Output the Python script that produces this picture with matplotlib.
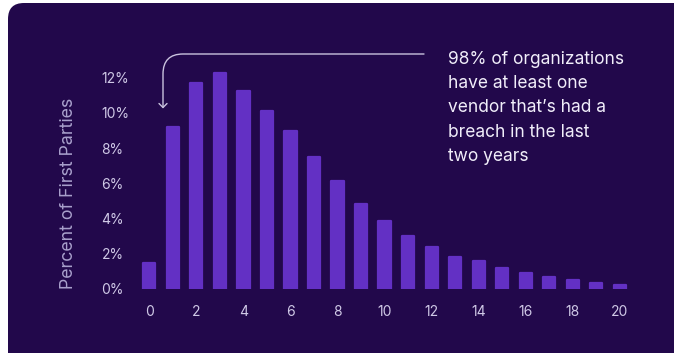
import matplotlib
matplotlib.use("Agg")
import matplotlib.pyplot as plt
from matplotlib.patches import FancyBboxPatch, PathPatch
from matplotlib.path import Path

# ---- data ----
vendors_breached = list(range(0, 21))
pct_first_parties = [1.5, 9.2, 11.7, 12.25, 11.25, 10.1, 9.0, 7.5, 6.15, 4.85,
                     3.85, 3.0, 2.4, 1.8, 1.6, 1.2, 0.9, 0.66, 0.53, 0.36, 0.2]
x_ticks = [0, 2, 4, 6, 8, 10, 12, 14, 16, 18, 20]
y_ticks = [0, 2, 4, 6, 8, 10, 12]
y_tick_labels = ["0%", "2%", "4%", "6%", "8%", "10%", "12%"]
y_label = "Percent of First Parties"
callout = "98% of organizations\nhave at least one\nvendor that\u2019s had a\nbreach in the last\ntwo years"

CARD = "#22084b"
BAR = "#6330c4"
TICK = "#cfc8e6"
YLAB = "#a9a0cc"
TEXT = "#f1eefa"
ARROW = "#c9c2de"

plt.rcParams['font.family'] = ['Inter', 'DejaVu Sans']

W, H = 674, 353
fig = plt.figure(figsize=(W / 100, H / 100), dpi=100)
fig.patch.set_facecolor("white")

# background / overlay axes in pixel coordinates
bg = fig.add_axes([0, 0, 1, 1], zorder=0)
bg.set_xlim(0, W)
bg.set_ylim(H, 0)
bg.axis("off")
card = FancyBboxPatch((8, 3), W + 20 - 8, H + 20 - 3,
                      boxstyle="round,pad=0,rounding_size=16",
                      facecolor=CARD, edgecolor="none")
bg.add_patch(card)

# callout arrow
verts = [(424, 54), (183, 54), (163, 54), (163, 74), (163, 107.5)]
codes = [Path.MOVETO, Path.LINETO, Path.CURVE3, Path.CURVE3, Path.LINETO]
bg.add_patch(PathPatch(Path(verts, codes), facecolor="none", edgecolor=ARROW, lw=1.0,
                       capstyle="round", joinstyle="round"))
head = Path([(159, 103.5), (163, 107.5), (167, 103.5)], [Path.MOVETO, Path.LINETO, Path.LINETO])
bg.add_patch(PathPatch(head, facecolor="none", edgecolor=ARROW, lw=1.0,
                       capstyle="round", joinstyle="round"))
bg.text(448, 50.5, callout, color=TEXT, fontsize=12.5, ha="left", va="top",
        linespacing=1.57)

# chart axes
px_per_unit = 23.53
xl = (-0.7, 20.7)
left_px = 149.3 + xl[0] * px_per_unit
right_px = 149.3 + xl[1] * px_per_unit
yl = (0, 13)
bottom_px = 289
top_px = bottom_px - 13 * 17.6
ax = fig.add_axes([left_px / W, (H - bottom_px) / H,
                   (right_px - left_px) / W, (bottom_px - top_px) / H], zorder=1)
ax.set_facecolor("none")
ax.bar(vendors_breached, pct_first_parties, width=0.52, color=BAR,
       edgecolor=BAR, linewidth=1.6, joinstyle="round")
ax.set_xlim(*xl)
ax.set_ylim(*yl)
for s in ax.spines.values():
    s.set_visible(False)
ax.set_xticks(x_ticks)
ax.set_xticklabels([str(v) for v in x_ticks])
ax.set_yticks(y_ticks)
ax.set_yticklabels(y_tick_labels)
ax.tick_params(axis="both", length=0, colors=TICK, labelsize=10)
ax.tick_params(axis="x", pad=11.5)
ax.tick_params(axis="y", pad=22.5)
for lab in ax.get_yticklabels():
    lab.set_horizontalalignment("left")
    lab.set_y(lab.get_position()[1])
ax.set_ylabel(y_label, color=YLAB, fontsize=12.8)
ax.yaxis.set_label_coords((68.7 - left_px) / (right_px - left_px), 0.5 + (bottom_px - 193 - (bottom_px - top_px) / 2) / (bottom_px - top_px))
ax.yaxis.label.set_verticalalignment("center")

fig.savefig("out.png", dpi=100, facecolor=fig.get_facecolor())
